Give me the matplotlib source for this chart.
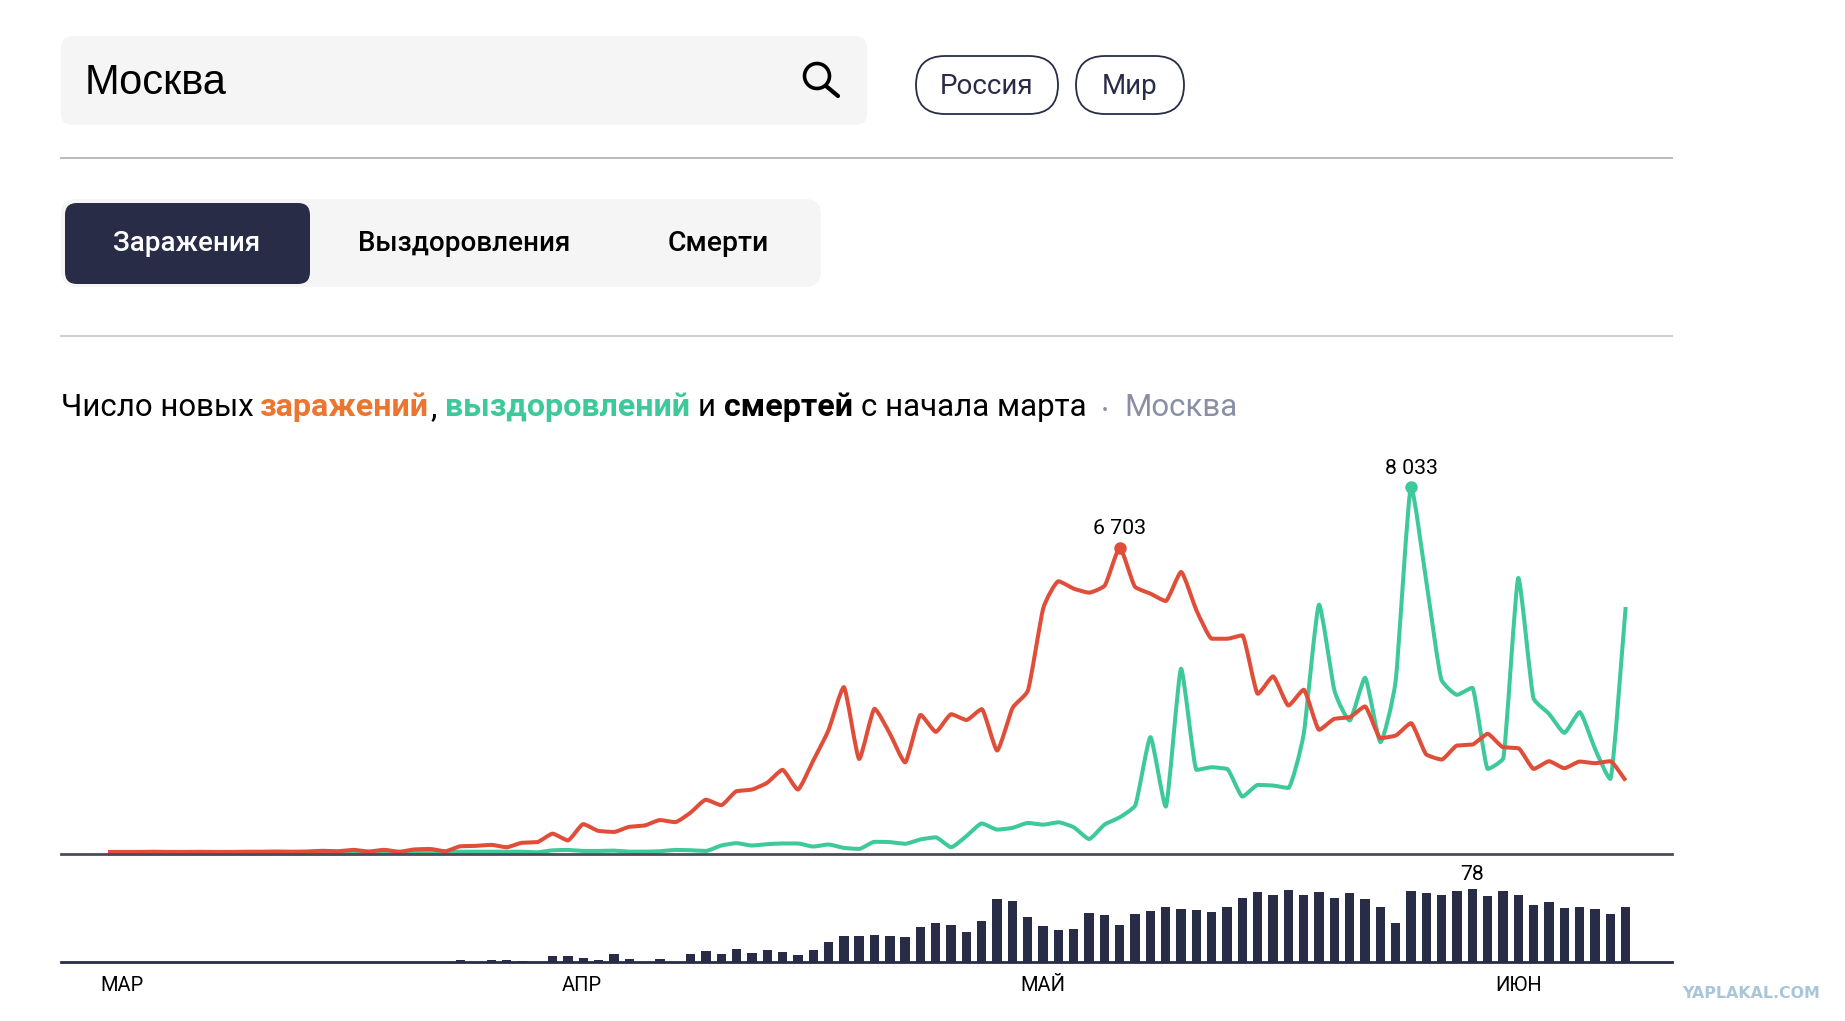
import numpy as np
import matplotlib
matplotlib.use("Agg")
import matplotlib.pyplot as plt
from matplotlib.patches import FancyBboxPatch, Circle, PathPatch
from matplotlib.path import Path

W, H = 1845, 1021

# values, one per day
new_cases = [45, 45, 45, 50, 45, 45, 48, 45, 45, 50, 50, 55, 50, 55, 70, 60, 90, 55, 90, 50,
             100, 110, 60, 170, 178, 200, 148, 245, 260, 445, 297, 653, 505, 482, 594, 623, 742, 697, 905, 1187,
             1068, 1373, 1410, 1558, 1840, 1410, 2040, 2708, 3650, 2078, 3175, 2634, 2003, 3042, 2671, 3057, 2931, 3168, 2263, 3190,
             3570, 5365, 5964, 5803, 5716, 5862, 6703, 5840, 5694, 5533, 6168, 5329, 4708, 4708, 4781, 3504, 3884, 3248, 3592, 2716,
             2956, 2993, 3227, 2533, 2591, 2862, 2175, 2066, 2372, 2394, 2628, 2336, 2314, 1861, 2029, 1876, 2022, 1986, 2029, 1606]
recovered = [10, 10, 10, 10, 10, 10, 10, 10, 10, 10, 10, 10, 10, 10, 10, 10, 10, 15, 20, 37,
             50, 50, 50, 50, 50, 50, 50, 50, 37, 80, 89, 67, 67, 74, 52, 52, 60, 89, 82, 67,
             185, 237, 185, 215, 230, 230, 163, 208, 134, 111, 267, 260, 223, 319, 364, 148, 393, 668, 534, 571,
             679, 642, 693, 584, 328, 642, 803, 1058, 2555, 1037, 4051, 1840, 1898, 1861, 1256, 1511, 1497, 1445, 2628, 5453,
             3577, 2920, 3854, 2446, 3796, 8033, 5950, 3796, 3482, 3635, 1861, 2080, 6037, 3394, 3066, 2650, 3102, 2300, 1642, 5402]
deaths = [0, 0, 0, 0, 0, 0, 0, 0, 0, 0, 0, 0, 0, 0, 0, 0, 0, 0, 0, 0,
          0, 0, 0, 2, 0, 2, 2, 1, 0, 6, 6, 4, 2, 8, 3, 0, 3, 0, 8, 12,
          9, 14, 10, 13, 11, 7, 13, 21, 28, 28, 29, 28, 27, 37, 41, 39, 32, 44, 67, 65,
          48, 38, 34, 35, 52, 50, 39, 51, 54, 58, 56, 55, 53, 58, 68, 74, 71, 77, 71, 75,
          68, 73, 67, 59, 41, 76, 73, 71, 76, 78, 70, 76, 71, 61, 64, 57, 58, 56, 51, 59]
month_pos = [0.9, 30.9, 61, 92]
month_labels = ["МАР", "АПР", "МАЙ", "ИЮН"]

NAVY = "#282c47"
RED = "#e04e39"
GREEN = "#3dc99a"
FONT = "Roboto"

plt.rcParams['font.family'] = [FONT, 'DejaVu Sans']

fig = plt.figure(figsize=(W / 100, H / 100), dpi=100)


def px_axes(x0, x1, y_top, y_bottom, **kw):
    return fig.add_axes([x0 / W, 1 - y_bottom / H, (x1 - x0) / W, (y_bottom - y_top) / H], **kw)


# page furniture is drawn in pixel coordinates
ui = px_axes(0, W, 0, H)
ui.set_xlim(0, W)
ui.set_ylim(H, 0)
ui.axis("off")


def box(x0, x1, y0, y1, r, **kw):
    ui.add_patch(FancyBboxPatch((x0 + r, y0 + r), x1 - x0 - 2 * r, y1 - y0 - 2 * r,
                                boxstyle=f"round,pad={r},rounding_size={r}", **kw))


box(61, 867, 36, 125, 12, fc="#f5f5f5", ec="none")
ui.text(85, 83, "Москва", fontsize=30, family="Liberation Sans", va="center", color="black")
ui.add_patch(Circle((817, 76), 12.5, fc="none", ec="black", lw=2.6))
ui.plot([826, 838], [86, 96], color="black", lw=3, solid_capstyle="round")

box(916, 1058, 56, 114, 29, fc="white", ec=NAVY, lw=1.3)
box(1076, 1184, 56, 114, 29, fc="white", ec=NAVY, lw=1.3)
ui.text(987, 86, "Россия", fontsize=20, ha="center", va="center", color=NAVY)
ui.text(1130, 86, "Мир", fontsize=20, ha="center", va="center", color=NAVY)

ui.plot([61, 1672], [158, 158], color="#b9bbc4", lw=1.4)
ui.plot([61, 1672], [336, 336], color="#cdced3", lw=1.4)

box(61, 821, 199, 287, 16, fc="#f5f5f5", ec="none")
box(65, 310, 203, 284, 12, fc=NAVY, ec="none")
ui.text(187, 243, "Заражения", fontsize=20, weight="medium", ha="center", va="center", color="white")
ui.text(464, 243, "Выздоровления", fontsize=20, weight="medium", ha="center", va="center", color="black")
ui.text(718, 243, "Смерти", fontsize=20.4, weight="medium", ha="center", va="center", color="black")

title_parts = [(61, "Число новых", "normal", "black", 22.5),
               (260, "заражений", "bold", "#ec7530", 23.2),
               (431, ",", "normal", "black", 23),
               (445, "выздоровлений", "bold", GREEN, 23.2),
               (698, "и", "normal", "black", 22.5),
               (724, "смертей", "bold", "black", 23.2),
               (861, "с начала марта", "normal", "black", 22.5),
               (1102, "•", "normal", "#8b8fa5", 13),
               (1124, "Москва", "normal", "#8b8fa5", 22.5)]
for x, s, w, c, fs in title_parts:
    ui.text(x, 416, s, fontsize=fs, weight=w, color=c, va="baseline")

ui.text(1751, 993, "YAPLAKAL.COM", fontsize=11.4, weight="bold", family="DejaVu Sans",
        ha="center", va="center", color="#a9c6d9")


def smooth_path(xs, ys):
    # rounds the corners of the polyline a little, the ramps stay nearly straight
    xs = np.asarray(xs, float)
    ys = np.asarray(ys, float)
    s = np.diff(ys) / np.diff(xs)
    t = np.zeros(len(ys))
    t[1:-1] = (np.sign(s[:-1]) + np.sign(s[1:])) * np.minimum.reduce(
        [np.abs(s[:-1]), np.abs(s[1:]), 0.5 * np.abs(s[:-1] + s[1:]) / 2])
    t[0] = s[0]
    t[-1] = s[-1]
    verts = [(xs[0], ys[0])]
    codes = [Path.MOVETO]
    for i in range(len(xs) - 1):
        dx = (xs[i + 1] - xs[i]) * 0.17
        verts += [(xs[i] + dx, ys[i] + dx * t[i]), (xs[i + 1] - dx, ys[i + 1] - dx * t[i + 1]), (xs[i + 1], ys[i + 1])]
        codes += [Path.CURVE4] * 3
    return Path(verts, codes)


# charts: 1 day = 15.33 px, first day at x = 108 px
DAY = 15.33
xlim = ((61 - 108) / DAY, (1672 - 108) / DAY)
days = np.arange(len(new_cases))

ax = px_axes(61, 1672, 440, 854, zorder=2)
ax.patch.set_alpha(0)
ax.set_xlim(xlim)
ax.set_ylim(0, 414 * 8033 / 367.3)
for vals, col in [(recovered, GREEN), (new_cases, RED)]:
    ax.add_patch(PathPatch(smooth_path(days, vals), fc="none", ec=col, lw=2.9, capstyle="butt",
                           joinstyle="round", clip_on=False))
top_red = int(np.argmax(new_cases))
top_green = int(np.argmax(recovered))
ax.plot(top_red, new_cases[top_red], "o", color=RED, ms=8)
ax.plot(top_green, recovered[top_green], "o", color=GREEN, ms=8)
for i, vals in [(top_red, new_cases), (top_green, recovered)]:
    ax.annotate(f"{vals[i]:,}".replace(",", " "), (i, vals[i]), xytext=(0, 6.5), textcoords="offset points",
                ha="center", va="bottom", fontsize=15.3, color="black")
ax.set_xticks([])
ax.set_yticks([])
for s in ["top", "left", "right"]:
    ax.spines[s].set_visible(False)
ax.spines["bottom"].set_color("#4a4c5c")
ax.spines["bottom"].set_linewidth(2)

ax2 = px_axes(61, 1672, 869, 962, zorder=2)
ax2.patch.set_alpha(0)
ax2.set_xlim(xlim)
ax2.set_ylim(0, 93 / 0.94)
ax2.bar(days, deaths, width=0.61, color=NAVY)
top_death = int(np.argmax(deaths))
ax2.annotate(str(deaths[top_death]), (top_death, deaths[top_death]), xytext=(0, 3.5), textcoords="offset points",
             ha="center", va="bottom", fontsize=15.3, color="black")
ax2.set_xticks(month_pos)
ax2.set_xticklabels(month_labels, fontsize=14.5, color="black")
ax2.tick_params(axis="x", length=0, pad=10)
ax2.set_yticks([])
for s in ["top", "left", "right"]:
    ax2.spines[s].set_visible(False)
ax2.spines["bottom"].set_color(NAVY)
ax2.spines["bottom"].set_linewidth(2)

fig.savefig("out.png", dpi=100, facecolor="white")
